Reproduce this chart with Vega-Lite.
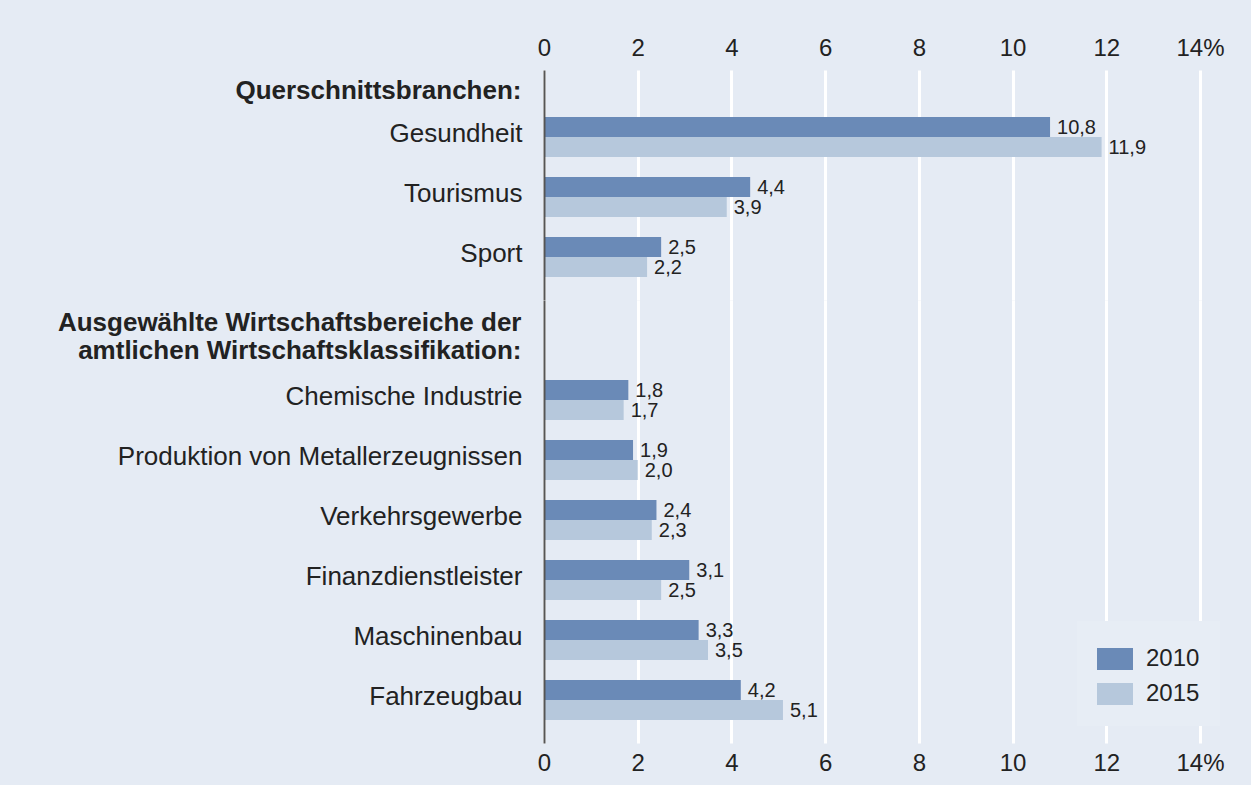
{
  "$schema": "https://vega.github.io/schema/vega-lite/v6.json",
  "background": "#e5ebf4",
  "padding": {"left": 57, "top": 36, "right": 32, "bottom": 11},
  "spacing": 0,
  "datasets": {
    "rows": [
      {"group": "A", "cat": "Gesundheit", "year": "2010", "value": 10.8},
      {"group": "A", "cat": "Gesundheit", "year": "2015", "value": 11.9},
      {"group": "A", "cat": "Tourismus", "year": "2010", "value": 4.4},
      {"group": "A", "cat": "Tourismus", "year": "2015", "value": 3.9},
      {"group": "A", "cat": "Sport", "year": "2010", "value": 2.5},
      {"group": "A", "cat": "Sport", "year": "2015", "value": 2.2},
      {"group": "B", "cat": "Chemische Industrie", "year": "2010", "value": 1.8},
      {"group": "B", "cat": "Chemische Industrie", "year": "2015", "value": 1.7},
      {"group": "B", "cat": "Produktion von Metallerzeugnissen", "year": "2010", "value": 1.9},
      {"group": "B", "cat": "Produktion von Metallerzeugnissen", "year": "2015", "value": 2.0},
      {"group": "B", "cat": "Verkehrsgewerbe", "year": "2010", "value": 2.4},
      {"group": "B", "cat": "Verkehrsgewerbe", "year": "2015", "value": 2.3},
      {"group": "B", "cat": "Finanzdienstleister", "year": "2010", "value": 3.1},
      {"group": "B", "cat": "Finanzdienstleister", "year": "2015", "value": 2.5},
      {"group": "B", "cat": "Maschinenbau", "year": "2010", "value": 3.3},
      {"group": "B", "cat": "Maschinenbau", "year": "2015", "value": 3.5},
      {"group": "B", "cat": "Fahrzeugbau", "year": "2010", "value": 4.2},
      {"group": "B", "cat": "Fahrzeugbau", "year": "2015", "value": 5.1}
    ]
  },
  "resolve": {
    "scale": {"x": "independent", "y": "independent", "color": "independent", "yOffset": "independent"},
    "legend": {"color": "independent"},
    "axis": {"x": "independent", "y": "independent"}
  },
  "vconcat": [
    {
      "width": 656,
      "height": 230,
      "data": {"name": "rows"},
      "transform": [{"filter": "datum.group == 'A'"}],
      "encoding": {
        "y": {
          "field": "cat", "type": "nominal",
          "scale": {"domain": ["Gesundheit", "Tourismus", "Sport"], "paddingInner": 0.33333, "paddingOuter": 0.58333, "align": 0.671},
          "axis": {
            "title": "Querschnittsbranchen:",
            "titleAngle": 0, "titleAlign": "right", "titleBaseline": "alphabetic",
            "titleX": -23, "titleY": 28, "titleFontSize": 26, "titleFontWeight": "bold",
            "domain": true, "domainColor": "#555555", "domainWidth": 2,
            "ticks": false, "labelFontSize": 26, "labelPadding": 22, "labelOffset": -3, "labelLimit": 600, "zindex": 1
          }
        },
        "yOffset": {"field": "year", "type": "nominal", "scale": {"domain": ["2010", "2015"], "paddingInner": 0, "paddingOuter": 0}},
        "x": {
          "field": "value", "type": "quantitative",
          "scale": {"domain": [0, 14], "nice": false},
          "axis": {
            "orient": "top", "title": null, "values": [0, 2, 4, 6, 8, 10, 12, 14],
            "labelExpr": "datum.value == 14 ? '14%' : datum.label", "labelFlush": false,
            "domain": false, "ticks": false, "grid": true, "gridColor": "#ffffff", "gridWidth": 3,
            "labelFontSize": 24, "labelPadding": 10
          }
        }
      },
      "layer": [
        {
          "mark": {"type": "bar"},
          "encoding": {
            "color": {"field": "year", "type": "nominal", "scale": {"domain": ["2010", "2015"], "range": ["#6a8ab7", "#b6c8dc"]}, "legend": null}
          }
        },
        {
          "mark": {"type": "text", "align": "left", "baseline": "middle", "dx": 7, "dy": 1, "fontSize": 20, "color": "#222222"},
          "encoding": {"text": {"field": "value", "type": "quantitative", "format": ".1f"}}
        }
      ]
    },
    {
      "width": 656,
      "height": 443,
      "data": {"name": "rows"},
      "transform": [{"filter": "datum.group == 'B'"}],
      "encoding": {
        "y": {
          "field": "cat", "type": "nominal",
          "scale": {"domain": ["Chemische Industrie", "Produktion von Metallerzeugnissen", "Verkehrsgewerbe", "Finanzdienstleister", "Maschinenbau", "Fahrzeugbau"], "paddingInner": 0.33333, "paddingOuter": 0.85833, "align": 0.777},
          "axis": {
            "title": ["Ausgewählte Wirtschaftsbereiche der", "amtlichen Wirtschaftsklassifikation:"],
            "titleAngle": 0, "titleAlign": "right", "titleBaseline": "alphabetic",
            "titleX": -23, "titleY": 30, "titleFontSize": 26, "titleFontWeight": "bold", "titleLineHeight": 28,
            "domain": true, "domainColor": "#555555", "domainWidth": 2,
            "ticks": false, "labelFontSize": 26, "labelPadding": 22, "labelOffset": -3, "labelLimit": 600, "zindex": 1
          }
        },
        "yOffset": {"field": "year", "type": "nominal", "scale": {"domain": ["2010", "2015"], "paddingInner": 0, "paddingOuter": 0}},
        "x": {
          "field": "value", "type": "quantitative",
          "scale": {"domain": [0, 14], "nice": false},
          "axis": {
            "orient": "bottom", "title": null, "values": [0, 2, 4, 6, 8, 10, 12, 14],
            "labelExpr": "datum.value == 14 ? '14%' : datum.label", "labelFlush": false,
            "domain": false, "ticks": false, "grid": true, "gridColor": "#ffffff", "gridWidth": 3,
            "labelFontSize": 24, "labelPadding": 8
          }
        }
      },
      "layer": [
        {
          "mark": {"type": "bar"},
          "encoding": {
            "color": {
              "field": "year", "type": "nominal",
              "scale": {"domain": ["2010", "2015"], "range": ["#6a8ab7", "#b6c8dc"]},
              "legend": {
                "orient": "none", "legendX": 533, "legendY": 321, "title": null,
                "symbolType": "M-1,-0.611H1V0.611H-1Z", "symbolSize": 1296, "symbolStrokeWidth": 0, "symbolOpacity": 1,
                "labelFontSize": 24, "labelOffset": 13, "rowPadding": 5, "padding": 20,
                "fillColor": "#e7edf5", "labelColor": "#222222"
              }
            }
          }
        },
        {
          "mark": {"type": "text", "align": "left", "baseline": "middle", "dx": 7, "dy": 1, "fontSize": 20, "color": "#222222"},
          "encoding": {"text": {"field": "value", "type": "quantitative", "format": ".1f"}}
        }
      ]
    }
  ],
  "config": {
    "view": {"stroke": null},
    "font": "Liberation Sans",
    "axis": {"labelFont": "Liberation Sans", "titleFont": "Liberation Sans", "labelColor": "#222222", "titleColor": "#222222"},
    "legend": {"labelFont": "Liberation Sans"},
    "text": {"font": "Liberation Sans"},
    "locale": {"number": {"decimal": ",", "thousands": ".", "grouping": [3], "currency": ["", " €"]}}
  }
}
